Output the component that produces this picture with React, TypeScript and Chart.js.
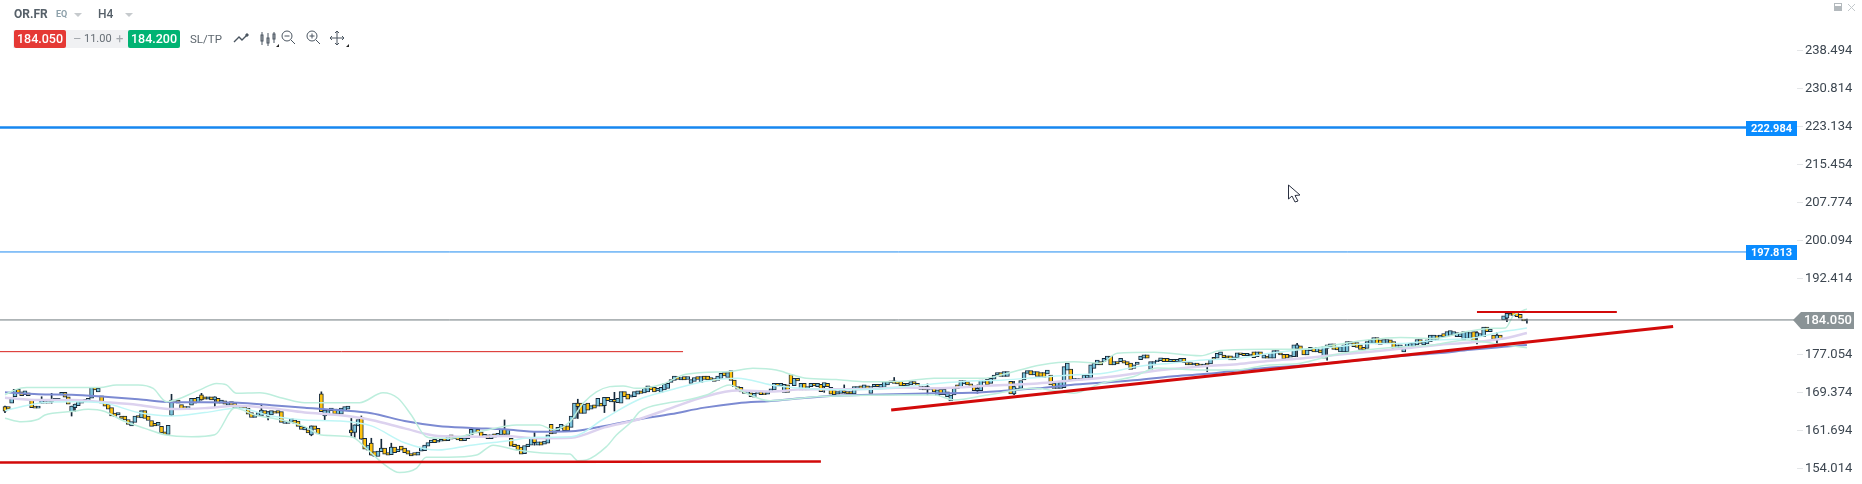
import React, { useEffect, useRef } from "react";
import { Chart, registerables } from "chart.js";

Chart.register(...registerables);

const priceTicks = [238.494, 230.814, 223.134, 215.454, 207.774, 200.094, 192.414, 177.054, 169.374, 161.694, 154.014];

// [open, close] of each H4 candle
const candleBodies: [number, number][] = [
[166.5,165.6],[166.5,166],[167.2,168.4],[168.5,170],[170,169.3],[169.5,168.7],[168.9,169.7],[169.3,168.7],[168,166.3],[166.6,166.2],
[166.2,166.6],[167.2,167.85],[167.5,167.2],[167.5,167.2],[167.5,168],[167.7,168.2],[167.7,168.2],[168.9,169.4],[169.4,168.4],[168.5,167],
[165.5,166.6],[166.3,167],[166.7,167.5],[167.2,167.85],[167.5,168],[167.5,168.2],[168.2,170.4],[170.4,169.9],[169.5,170.2],[168.7,167.2],
[167.3,166.6],[167,166],[166.3,164.6],[165.2,164.5],[164.8,165.3],[164.6,164.1],[164.6,163.8],[163.9,162.9],[162.6,163.5],[163.3,164.6],
[164.7,164.3],[164.2,165.7],[165.7,164.1],[164.6,163.7],[163.7,162.5],[163.1,162.6],[162.7,163.3],[162.5,161.2],[161.4,160.9],[160.9,162.7],
[164.7,167.85],[167.85,167.4],[167.85,167.2],[166.9,166],[166.5,166],[166,166.5],[166.8,168.2],[168.2,167.2],[167.3,168.4],[168.9,167.85],
[168.5,168],[168,168.5],[168.5,167.85],[167.85,168.5],[168.2,167.2],[167.2,167.85],[167.7,167],[166.8,167.3],[167.5,166.8],[167.2,166.3],
[166.2,166.6],[166.7,166.2],[166.7,166.2],[166.2,165],[165.3,164.3],[164.3,164.8],[164.6,165.3],[164.6,165.8],[165.7,165],[164.5,165.5],
[164.8,165.7],[165.6,165.2],[165.7,165.2],[165.5,163.3],[163.1,163.5],[163.1,163.6],[163.3,164.1],[163.8,163.1],[163.6,162.5],[162.5,161.9],
[161.8,162.3],[161.8,161.2],[160.8,162.6],[162.6,161.9],[162.1,161],[169.1,165.5],[164.6,165.8],[164.8,165.7],[165.7,166.2],[166,165],
[165,166],[165,166.2],[165.7,166.5],[166,166.6],[161.8,161.2],[161.3,162.8],[162.6,163.9],[164.3,159.9],[160.1,157.9],[157.7,158.7],
[159.1,156.7],[157.4,156.4],[156.4,157.5],[157.4,158.1],[158.1,156.9],[157.2,156.7],[156.8,158.3],[158.3,157.2],[157.4,157.9],[158.5,157.7],
[158.1,157.2],[157.6,156.9],[157,156.5],[157.2,156.7],[156.7,157.3],[157.5,158.3],[157.6,158.7],[158.5,159.2],[159.2,159.75],[159.9,159.2],
[159.3,159.75],[159.5,159.9],[160.1,159.55],[159.6,160.6],[160.8,159.9],[160.4,160],[160.3,159.75],[160.1,159.55],[159.6,160.2],[160,160.8],
[160.8,161.9],[161.2,162.1],[161.9,161.2],[161.4,160.3],[160.3,160.9],[160.8,160],[160,160.8],[161,160.3],[160.6,161.1],[160.8,161.9],
[161.9,160.9],[160.9,161.9],[160.1,158.5],[158.9,158.4],[158.7,157.7],[158.3,156.9],[157,158.6],[158.4,158.9],[158.7,160.1],[160.1,159.2],
[158.7,159.4],[159.4,158.7],[158.9,159.55],[159.1,160.8],[162.9,161],[161.1,161.9],[161.65,162.3],[162.1,162.9],[162.65,161.65],[162.6,161.65],
[162.3,164.6],[164.1,167.2],[167.2,166.5],[167.2,165.15],[165.15,167],[167.2,165.8],[166,166.7],[166.85,166.2],[166.6,168.2],[167.2,166.6],
[166.7,168.4],[168.4,167.7],[167.45,168],[168,167.45],[167.3,168.2],[167.2,169.55],[169.55,168.5],[169.05,168],[168.4,168.9],[168.5,169.55],
[169,169.7],[169.7,169.2],[169.3,170.2],[169.5,170.7],[170.55,169.9],[170.4,169.5],[169.7,170.2],[169.4,170.4],[169.9,171.1],[170.2,171.2],
[171.4,172],[171.8,172.7],[172.6,172],[171.9,172.4],[172.6,171.9],[172,172.6],[171.2,172],[171.6,172.4],[172.6,172],[171.4,172.6],
[172.7,172],[172.7,171.9],[172.4,171.9],[172.2,171.6],[171.8,172.7],[172.2,173.25],[173.4,172.7],[172.4,173.4],[173.8,171.8],[171.9,170.55],
[170.55,170],[170.4,169.5],[169.55,169.2],[169.2,169.55],[169.3,168.5],[168.4,169.2],[169.2,169.55],[169.55,168.9],[169.3,168.9],[169,169.55],
[169.55,170.1],[169.9,171.2],[171.2,170.75],[170.7,171.2],[169.4,171],[170.9,169.4],[173,171.1],[170.75,172.25],[172.25,171.7],[169.9,171.2],
[171.2,169.9],[169.9,170.55],[170.55,171.2],[171.2,170.7],[170.55,171.2],[171,169.55],[170.55,171.35],[171.2,170.55],[170.4,169],[169.9,168.9],
[169,169.55],[169.2,169.9],[169.75,169.35],[169.55,169.05],[169.55,169.05],[169.05,170.55],[169.9,170.55],[170.7,170.2],[170.2,170.9],[170.7,170.1],
[169.2,170.55],[170.55,171],[171,170.55],[170.4,171],[170.4,171.55],[170.9,171.55],[171.35,171.75],[171.75,171.2],[171.6,171.1],[171.6,170.7],
[171.2,170.75],[170.75,171.2],[170.9,171.55],[171.55,171.1],[171.2,170.75],[170,170.55],[170.55,169.9],[170,170.55],[169.9,170.2],[170.2,169.5],
[168.7,169.9],[170,168.9],[168.9,170],[168.5,169.5],[167.65,168.85],[168.85,170.2],[170.9,170.2],[170.55,171.8],[171.1,171.8],[171.55,170.9],
[171.1,170.55],[170.7,169.75],[169.75,170.2],[169.75,171.9],[171.4,171.9],[172.05,170.9],[171.2,172.25],[172.05,172.9],[172.9,173.4],[173.4,172.6],
[172.6,173.6],[172.6,173.6],[171.6,169.05],[169.05,170.55],[169.9,170.2],[170.2,171.8],[171.9,173.4],[173.25,173.8],[173.8,172.9],[172.9,173.6],
[173.6,172.6],[173.4,172.6],[173.4,172.4],[173.1,173.9],[172.9,170.9],[171.2,170.2],[170.2,171.55],[170.2,171.55],[170.35,174.6],[173.9,175.3],
[174.1,171.9],[171.9,172.25],[171.9,172.25],[172.25,171.9],[172.05,172.9],[172.25,172.9],[172.25,174.95],[174.25,175.3],[174.95,175.95],[175.6,174.95],
[175.6,176.3],[175.95,176.75],[176.75,174.95],[174.95,175.6],[175.6,175.15],[175.6,176.3],[175.8,175.3],[175.6,174.95],[175.3,174.05],[174.25,174.95],
[175.05,175.5],[176,176.75],[176.3,177],[177,176.3],[174.05,175.6],[174.95,175.6],[175.6,175.95],[175.8,176.4],[176.3,175.6],[176.3,175.6],
[175.6,176.1],[176.1,175.6],[175.6,176.1],[175.6,176.3],[176.3,175.4],[175.4,174.95],[175.4,174.95],[174.95,175.3],[175.3,174.75],[175.1,174.7],
[174.7,175.1],[175.3,174.9],[175.15,176.1],[176.5,176.1],[176.3,177.3],[176.95,177.6],[176.95,176.4],[176.8,176.3],[176.8,175.95],[175.95,176.6],
[176.4,177.4],[177.4,177],[177.3,176.8],[176.8,177.3],[176.75,177.15],[177.6,176.4],[176.6,177.6],[177.6,177],[176.3,177],[176.75,176.3],
[176.3,177.3],[176.3,177.85],[177.3,177.85],[177.4,176.95],[177.1,176.15],[177.1,176.3],[176.5,176.95],[176.6,179],[178.3,179],[178.8,178],
[178.1,176.95],[176.95,178],[177.85,178.5],[178.3,177.6],[177.6,178.5],[178,177.4],[176.3,178.65],[178.3,179],[178.65,179.2],[179.2,178.1],
[178.65,178],[177.6,178.65],[177.6,179],[177.6,179.65],[179.65,179.3],[179.45,178.65],[179.45,178.5],[179,178.1],[178.5,178],[178.3,179.65],
[179.3,180],[179.3,180.5],[180.5,179.2],[180,179.1],[179.3,180.1],[179.5,180.1],[180,179.3],[179.65,178.3],[178.5,179],[178.5,179],
[177.6,178.65],[178.5,179.3],[178.65,179.3],[178.65,179.45],[179,180.1],[180.1,179.3],[179,179.65],[179.2,180],[179.65,181],[179.9,181],
[180.9,180],[180.5,181],[181.3,180.65],[180.65,181.7],[180.9,181.9],[181,181.7],[180.65,181.5],[180.65,181.3],[180,181.7],[180.3,181.7],
[180.3,181.5],[181.7,179.65],[180.65,181.5],[180.65,181.3],[180.65,182.6],[182.6,181.7],[181.7,182.15],[181,180.1],[180,181],[181,180.1],
[184.05,184.9],[184.4,185.4],[185.4,185],[185.6,184.9],[185.6,184.7],[185.2,184.4],[184.25,183.85]
];

// sparse wick tips: [candle, high, low]
const wickTips: [number, number, number][] = [
[0,166.6,165.3],[11,168.5,167.2],[14,169.2,167.2],[20,166.6,164.6],[21,167,165.5],[50,169,164.7],[59,169.2,167.8],[63,168.5,166.3],[77,167,164.6],[79,165.5,163.8],
[92,162.6,160.6],[95,169.5,165.5],[96,165.8,163.7],[104,164.1,160.4],[105,162.8,160.3],[107,164.6,159.9],[110,160.1,156.7],[113,159.9,157.4],[116,159.1,156.8],[150,163.8,160.8],
[159,161.4,158.7],[172,168,164.1],[180,167.2,165.3],[183,169.4,165.6],[246,171,169.4],[252,170.9,169.2],[267,172.4,171.35],[277,171.1,168.9],[292,170.9,169.2],[303,171.6,168.9],
[361,175.1,173.6],[388,179.3,176.6],[397,178.7,175.9],[442,181.7,179.2],[448,181.5,179.2],[451,184.9,183.7],[457,184.25,183.4]
];

const ma1Idx = [0,10,20,30,40,50,60,70,80,90,100,110,120,130,140,150,160,170,180,190,200,210,220,230,240,250,260,270,280,290,300,310,320,330,340,350,360,370,380,390,400,410,420,430,440,450,457];
const ma1Val = [169.4,169,168.9,168.5,168,167.4,167.4,167.3,166.8,166.3,165.8,165.15,163.6,162.6,162.2,161.9,161.4,161.5,162.6,163.9,165,166.3,167.2,167.65,168.25,168.7,168.9,169.07,169.2,169.3,169.7,170.2,170.9,171.4,171.9,172.6,173.1,173.8,174.4,174.9,175.5,176.1,176.8,177.3,178,178.6,179];
const ma2Val = [168.3,167.85,167.85,167.4,166.85,166,166.2,166.7,166.2,165.3,164.8,163.8,162.1,160.55,160.4,160.55,160.1,160.2,162.3,163.9,166.2,168.5,169.75,169.55,170,170,170.1,170.35,170.2,170.55,170.9,171.2,171.8,172.4,173.25,174.1,174.7,175.1,175.8,176.3,177,177.6,178.3,179,179.5,180.3,181.4];
const bbMidVal = [165.7,167.2,167.5,167.2,165.3,164.6,165.3,166.2,164.6,163.8,163.6,162.6,159.2,157.7,158.7,159.5,160.3,160.4,164.1,167.85,169.9,171.6,172.25,170.9,170.2,169.9,170,170.55,171.2,171.7,171.9,172.4,172.9,173.25,174.6,175.3,175.95,176.3,177.3,178.1,178.6,179.3,179.3,180,180.3,181.7,182.4];

const bbUpper: [number, number][] = [
[0,168.9],[3,169.9],[6.5,170.35],[13.5,170.35],[20,170.35],[28.5,170.35],[33.5,170.9],[40,170.9],[44.5,170.2],[48.5,167.5],[58.5,169.9],[63.5,171.2],[66.5,170.9],[69.5,169.2],[76.5,169.3],[83.5,168.2],[90,167.3],[98.5,167.3],[106.5,167.3],[113.5,169.3],[118,168.2],[122,164.8],[126.5,160.4],[130,160.1],
[133.6,160.1],[143.6,161.6],[153.6,162.8],[160.6,162.8],[164.6,161.8],[169.6,163.45],[173.6,167.2],[177.6,169.5],[181.6,170.55],[185.6,170.7],[189.6,170.2],[197.6,171.1],[203.6,172.9],[209.6,173.4],[217.6,173.6],[224.6,174.25],[231.6,173.9],[236.6,172.9],[240.6,172.25],[249.6,172],[257.6,171.55],[268.6,171.6],
[279,172.25],[294,172.25],[299,172.9],[311,174.95],[321,175.6],[329,175.3],[334,177.3],[345,177.5],[359,176.8],[365,177.85],[379,178.1],[389,178.1],[399,179],[409,180],[419,180.5],[429,180.3],[439,181.7],[447,182.35],[450.5,182.4],[453,185],[455,185.7],[457,186.3]
];
const bbLower: [number, number][] = [
[0,164.15],[5,163.45],[10,163.95],[12,164.8],[20,165.5],[25,165.95],[30,165.5],[35,163.8],[42,162.1],[48,160.8],[56,160.4],[63,160.8],[69,166.2],[75,164.8],[83,163.8],[90,162.45],[95,160.75],[104,160.4],[108.5,158.05],[113.5,155],[118.5,153.15],[123.5,154],[126.5,156.25],[133,156.25],
[141.6,156.7],[146.6,158.7],[153.6,157.7],[163.6,157.05],[169.6,156.9],[172.1,155.55],[174.6,155.7],[180.6,158.4],[183.6,160.75],[188.1,163.45],[190.6,165.5],[198.6,167.2],[203.6,167.7],[210.6,168.85],[217.6,170.9],[222.1,169.35],[229.6,167.7],[243.6,168.5],[249.6,168.65],[268.6,168.85],
[279,168.85],[285,167.85],[295,168.85],[309,170.2],[321,169.2],[329,171.2],[339,172.6],[346,174.3],[359,173.9],[369,173.9],[379,174.9],[389,175.3],[399,176.95],[409,178],[419,178.6],[429,179],[439,180],[447,179.3],[457,178.4]
];

const levelBlueThick = 222.984;
const levelBlueThin = 197.813;
const levelLast = 184.05;
const tags = [{ price: levelBlueThick, text: "222.984" }, { price: levelBlueThin, text: "197.813" }];

const redThin: [number, number][] = [[-1.5, 177.63], [203.6, 177.63]];
const redBottom: [number, number][] = [[-1.5, 155.17], [245, 155.37]];
const redTrend: [number, number][] = [[266.1, 165.83], [500.9, 182.73]];
const redTop: [number, number][] = [[442, 185.67], [484, 185.67]];
const fullSpan = [-1.5, 538.1];

const pts = (a: [number, number][]) => a.map(([x, y]) => ({ x, y }));
const line = (label: string, data: any[], color: string, width: number, order: number, smooth = false) => ({
  type: "line" as const, label, data, borderColor: color, borderWidth: width, pointRadius: 0, order,
  cubicInterpolationMode: smooth ? "monotone" : "default", fill: false,
});

const tagPlugin = {
  id: "tags",
  afterDraw(chart: any) {
    const { ctx, scales } = chart;
    const y = scales.y;
    ctx.save();
    ctx.textBaseline = "middle";
    ctx.textAlign = "center";
    for (const t of tags) {
      const py = Math.round(y.getPixelForValue(t.price));
      ctx.fillStyle = "#0a8cff";
      ctx.fillRect(1746, py - 7, 51, 15);
      ctx.fillStyle = "#fff";
      ctx.font = "bold 11px Roboto";
      ctx.fillText(t.text, 1771.5, py + 1);
    }
    const py = Math.round(y.getPixelForValue(levelLast));
    ctx.fillStyle = "#8a9396";
    ctx.beginPath();
    ctx.moveTo(1793, py);
    ctx.lineTo(1801, py - 8);
    ctx.lineTo(1854, py - 8);
    ctx.lineTo(1854, py + 9);
    ctx.lineTo(1801, py + 9);
    ctx.closePath();
    ctx.fill();
    ctx.fillStyle = "#fff";
    ctx.font = "500 13px Roboto";
    ctx.fillText(levelLast.toFixed(3), 1828, py + 1);
    ctx.restore();
  },
};

const iconStroke = "#4a5560";

export default function App() {
  const ref = useRef<HTMLCanvasElement>(null);
  useEffect(() => {
    document.body.style.margin = "0";
    const chart = new Chart(ref.current as HTMLCanvasElement, {
      type: "bar",
      data: {
        datasets: [
          {
            label: "Bodies",
            data: candleBodies.map(([o, c], i) => ({ x: i, y: [o, c] })),
            backgroundColor: candleBodies.map(([o, c]) => (o > c ? "#ffc20e" : "#7cc4dc")),
            borderColor: "#16293a", borderWidth: 1, borderSkipped: false, barThickness: 4, grouped: false, order: 5,
          },
          {
            label: "Wicks",
            data: wickTips.map(([i, h, l]) => ({ x: i, y: [l, h] })),
            backgroundColor: "#16293a", barThickness: 1, grouped: false, order: 6,
          },
          line("BB upper", pts(bbUpper), "#bdeedd", 1.5, 4, true),
          line("BB lower", pts(bbLower), "#bdeedd", 1.5, 4, true),
          line("BB mid", ma1Idx.map((x, i) => ({ x, y: bbMidVal[i] })), "#bff6f6", 1.5, 4, true),
          line("MA slow", ma1Idx.map((x, i) => ({ x, y: ma2Val[i] })), "#dcd2ef", 2.5, 4, true),
          line("MA fast", ma1Idx.map((x, i) => ({ x, y: ma1Val[i] })), "#7c8ad2", 2, 4, true),
          line("Level 222", fullSpan.map((x) => ({ x, y: levelBlueThick })), "#1687f0", 2.5, 2),
          line("Level 197", fullSpan.map((x) => ({ x, y: levelBlueThin })), "#1f8bf0", 1, 2),
          line("Last", fullSpan.map((x) => ({ x, y: levelLast })), "#6f7a7e", 1, 2),
          line("Red thin", pts(redThin), "#d8201c", 1, 1),
          line("Red bottom", pts(redBottom), "#d20a0a", 2.5, 1),
          line("Red trend", pts(redTrend), "#d20a0a", 3, 1),
          line("Red top", pts(redTop), "#d20a0a", 2, 1),
        ] as any,
      },
      options: {
        animation: false,
        responsive: false,
        layout: { padding: 0 },
        plugins: { legend: { display: false }, tooltip: { enabled: false } },
        scales: {
          x: { type: "linear", offset: false, min: fullSpan[0], max: fullSpan[1], display: false },
          y: {
            position: "right", min: 150.84, max: 248.818,
            afterBuildTicks: (s: any) => { s.ticks = priceTicks.map((value) => ({ value })); },
            afterFit: (s: any) => { s.width = 65; s.paddingTop = 0; s.paddingBottom = 0; },
            grid: { drawOnChartArea: false, drawTicks: true, tickLength: 6, color: "#e4e6e8" },
            border: { display: false },
            ticks: {
              color: "#3c4650", padding: 2, font: { family: "Roboto", size: 13 }, autoSkip: false,
              maxRotation: 0, callback: (v: any) => Number(v).toFixed(3),
            },
          },
        },
      },
      plugins: [tagPlugin],
    } as any);
    return () => chart.destroy();
  }, []);

  const text = (x: number, y: number, s: string, style: React.CSSProperties) => (
    <span style={{ position: "absolute", left: x, top: y, whiteSpace: "nowrap", ...style }}>{s}</span>
  );
  const arrow = (x: number) => (
    <svg style={{ position: "absolute", left: x, top: 13 }} width="8" height="5"><polygon points="0,0 8,0 4,4" fill="#c6cacd" /></svg>
  );

  return (
    <div style={{ position: "absolute", left: 0, top: 0, width: 1862, height: 484, overflow: "hidden", background: "#fff", fontFamily: "Roboto" }}>
      <canvas ref={ref} width={1862} height={484} style={{ display: "block", position: "absolute", left: 0, top: 0 }} />
      {text(14, 7, "OR.FR", { fontSize: 12, lineHeight: "14px", fontWeight: 700, color: "#566069" })}
      {text(56, 9, "EQ", { fontSize: 9, lineHeight: "11px", fontWeight: 700, color: "#8da0aa" })}
      {arrow(74)}
      {text(98, 7, "H4", { fontSize: 12, lineHeight: "14px", color: "#566069", fontWeight: 500 })}
      {arrow(125)}
      <div style={{ position: "absolute", left: 13, top: 30, width: 167, height: 18, background: "#f0f1f3" }} />
      <div style={{ position: "absolute", left: 14, top: 30, width: 52, height: 18, background: "#e53935", borderRadius: 2, color: "#fff", fontSize: 12.5, fontWeight: 500, lineHeight: "18px", textAlign: "center" }}>184.050</div>
      <div style={{ position: "absolute", left: 128, top: 30, width: 52, height: 18, background: "#00b373", borderRadius: 2, color: "#fff", fontSize: 12.5, fontWeight: 500, lineHeight: "18px", textAlign: "center" }}>184.200</div>
      {text(73, 31, "–", { fontSize: 13, lineHeight: "16px", color: "#a3a8ad" })}
      {text(84, 31, "11.00", { fontSize: 11, lineHeight: "16px", color: "#666e75" })}
      {text(116, 31, "+", { fontSize: 13, lineHeight: "16px", color: "#a3a8ad" })}
      {text(190, 31, "SL/TP", { fontSize: 11.5, lineHeight: "16px", color: "#5d666e" })}
      <svg style={{ position: "absolute", left: 230, top: 28 }} width="125" height="22" fill="none" stroke={iconStroke} strokeWidth="1">
        <polyline points="4,14 9,9 12,12 17,7" strokeWidth="1.4" />
        <circle cx="17" cy="7" r="1.2" fill={iconStroke} />
        <path d="M32 4V17M38 5V18M44 4V15" />
        <rect x="31" y="7" width="2" height="6" /><rect x="37" y="10" width="2" height="5" /><rect x="43" y="6" width="2" height="5" />
        <polygon points="46,19 49,19 49,16" fill="#222" stroke="none" />
        <circle cx="57" cy="8" r="5" /><path d="M54.5 8h5M61 12l4 4" />
        <circle cx="82" cy="8" r="5" /><path d="M79.5 8h5M82 5.5v5M86 12l4 4" />
        <path d="M107 3v14M100 10h14M105 5l2-2 2 2M105 15l2 2 2-2M102 8l-2 2 2 2M112 8l2 2-2 2" />
        <polygon points="116,19 119,19 119,16" fill="#222" stroke="none" />
      </svg>
      <svg style={{ position: "absolute", left: 1832, top: 1 }} width="26" height="12">
        <rect x="2" y="2" width="8" height="8" fill="#b3b9bd" /><rect x="3" y="3" width="6" height="2" fill="#fff" />
        <path d="M16 3l7 7M23 3l-7 7" stroke="#c4c9cc" strokeWidth="1" />
      </svg>
      <svg style={{ position: "absolute", left: 1287, top: 184 }} width="16" height="22">
        <polygon points="1.5,1 1.5,15 5,12 8,18 11,17 8,11.5 13,11" fill="#fff" stroke="#2a3040" strokeWidth="1" />
      </svg>
    </div>
  );
}
